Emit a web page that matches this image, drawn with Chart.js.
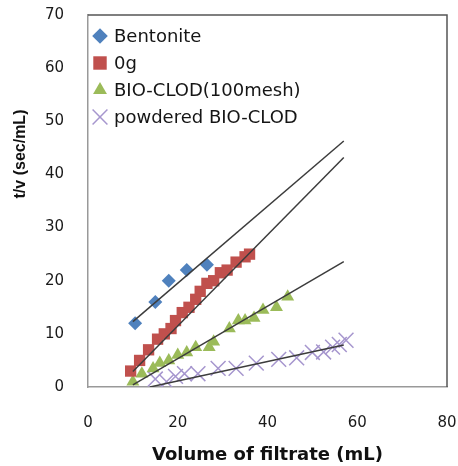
<!DOCTYPE html>
<html lang="en">
<head>
  <meta charset="UTF-8">
  <title>t/v vs Volume of filtrate</title>
  <style>
    body { margin: 0; background: #ffffff; }
    #wrap { width: 458px; height: 466px; }
  </style>
  <script src="https://cdn.jsdelivr.net/npm/chart.js"></script>
</head>
<body>
  <div id="wrap"><canvas id="chart" width="458" height="466"></canvas></div>

  <script>
    // measured points
    const bentX = [10.5, 15, 18, 22, 26.5];
    const bentY = [12, 16, 20, 22, 23];

    const ogX = [9.5, 11.5, 13.5, 15.5, 17, 18.5, 19.5, 21, 22.5, 24, 25, 26.5, 28, 29.5, 31, 33, 35, 36];
    const ogY = [3, 5, 7, 9, 10, 11, 12.5, 14, 15, 16.5, 18, 19.5, 20, 21.5, 22, 23.5, 24.5, 25];

    const bioX = [10, 12, 14.5, 16, 18, 20, 22, 24, 27, 28, 31.5, 33.5, 35, 37, 39, 42, 44.5];
    const bioY = [1, 2.5, 3.5, 4.5, 5, 6, 6.5, 7.5, 7.5, 8.5, 11, 12.5, 12.5, 13, 14.5, 15, 17];

    const powX = [15, 17.5, 19.5, 21.5, 24.5, 29, 33, 37.5, 42.5, 46.5, 50, 52.5, 54.5, 56, 57.5];
    const powY = [1.5, 1, 2, 2.5, 2.5, 3.5, 3.5, 4.5, 5.2, 5.5, 6.5, 6.6, 7.5, 8, 8.8];

    // linear trend lines (start and end)
    const bentFitX = [10, 57];
    const bentFitY = [12.3, 46.3];
    const ogFitX = [10, 57];
    const ogFitY = [2.9, 43.2];
    const bioFitX = [10, 57];
    const bioFitY = [0.4, 23.6];
    const powFitX = [13.8, 57];
    const powFitY = [0, 7.9];

    const seriesNames = ['Bentonite', '0g', 'BIO-CLOD(100mesh)', 'powdered BIO-CLOD'];
    const xTicks = [0, 20, 40, 60, 80];
    const yTicks = [0, 10, 20, 30, 40, 50, 60, 70];

    const pts = (xs, ys) => xs.map((x, i) => ({ x: x, y: ys[i] }));

    const markerSets = [
      { label: seriesNames[0], data: pts(bentX, bentY), pointStyle: 'rectRot', pointRadius: 7,
        backgroundColor: '#4F81BD', borderColor: '#4F81BD', borderWidth: 0, legendRadius: 7.8 },
      { label: seriesNames[1], data: pts(ogX, ogY), pointStyle: 'rect', pointRadius: 8,
        backgroundColor: '#C0504D', borderColor: '#C0504D', borderWidth: 0, legendRadius: 9.5 },
      { label: seriesNames[2], data: pts(bioX, bioY), pointStyle: 'triangle', pointRadius: 7.5,
        backgroundColor: '#9BBB59', borderColor: '#9BBB59', borderWidth: 0, legendRadius: 8 },
      { label: seriesNames[3], data: pts(powX, powY), pointStyle: 'crossRot', pointRadius: 10.5,
        backgroundColor: '#A696CE', borderColor: '#A696CE', borderWidth: 1.5, legendRadius: 10.5 }
    ];

    const fitSets = [
      pts(bentFitX, bentFitY), pts(ogFitX, ogFitY), pts(bioFitX, bioFitY), pts(powFitX, powFitY)
    ].map(d => ({
      label: 'fit', data: d, showLine: true, pointRadius: 0, borderColor: '#3c3c3c',
      borderWidth: 1.5, fill: false, order: 0
    }));

    markerSets.forEach(s => { s.showLine = false; s.order = 1; s.pointHoverRadius = s.pointRadius; });

    // plot frame (top and right sides darker)
    const framePlugin = {
      id: 'frame',
      afterDatasetsDraw(chart) {
        const a = chart.chartArea, ctx = chart.ctx;
        ctx.save();
        ctx.strokeStyle = '#555';
        ctx.lineWidth = 1.5;
        ctx.beginPath();
        ctx.moveTo(a.left, a.top);
        ctx.lineTo(a.right, a.top);
        ctx.lineTo(a.right, a.bottom);
        ctx.stroke();
        ctx.restore();
      }
    };

    // legend inside the plot, top left, and the y axis title
    const legendPlugin = {
      id: 'innerLegend',
      afterDraw(chart) {
        const ctx = chart.ctx;
        const a = chart.chartArea;
        ctx.save();
        markerSets.forEach((s, i) => {
          const cy = a.top + 21 + i * 27;
          ctx.fillStyle = s.backgroundColor;
          ctx.strokeStyle = s.borderColor;
          ctx.lineWidth = s.borderWidth;
          Chart.helpers.drawPoint(ctx, {
            pointStyle: s.pointStyle, radius: s.legendRadius, rotation: 0, borderWidth: s.borderWidth
          }, a.left + 12, cy);
          ctx.fillStyle = '#151515';
          ctx.font = '18px "DejaVu Sans"';
          ctx.textBaseline = 'middle';
          ctx.fillText(s.label, a.left + 26, cy + 1);
        });
        ctx.translate(21, 154);
        ctx.rotate(-Math.PI / 2);
        ctx.font = 'bold 16px "Liberation Sans"';
        ctx.textAlign = 'center';
        ctx.textBaseline = 'middle';
        ctx.fillStyle = '#111';
        ctx.fillText('t/v (sec/mL)', 0, 0);
        ctx.restore();
      }
    };

    const ctx = document.getElementById('chart').getContext('2d');
    new Chart(ctx, {
      type: 'scatter',
      data: { datasets: markerSets.concat(fitSets) },
      options: {
        responsive: false,
        animation: false,
        layout: { autoPadding: false, padding: { top: 15, right: 11, left: 0, bottom: 0 } },
        plugins: { legend: { display: false }, tooltip: { enabled: false } },
        scales: {
          x: {
            type: 'linear', min: 0, max: 80,
            afterBuildTicks: s => { s.ticks = xTicks.map(v => ({ value: v })); },
            // fixed height; drop the label overhang padding
            afterFit: s => { s.height = 79; s.paddingLeft = 0; s.paddingRight = 0; },
            grid: { display: false, drawTicks: false },
            border: { color: '#999', width: 1.5 },
            ticks: { padding: 27, color: '#1a1a1a', font: { family: 'DejaVu Sans', size: 15 }, maxRotation: 0 },
            title: { display: true, text: 'Volume of filtrate (mL)', color: '#111',
              font: { family: 'DejaVu Sans', size: 18, weight: 'bold' }, padding: { top: 0, bottom: 0 } }
          },
          y: {
            type: 'linear', min: 0, max: 70,
            afterBuildTicks: s => { s.ticks = yTicks.map(v => ({ value: v })); },
            afterFit: s => { s.width = 88; s.paddingTop = 0; s.paddingBottom = 0; },
            grid: { display: false, drawTicks: false },
            border: { color: '#999', width: 1.5 },
            ticks: { padding: 24, color: '#1a1a1a', font: { family: 'DejaVu Sans', size: 15 } }
          }
        }
      },
      plugins: [framePlugin, legendPlugin]
    });
  </script>
</body>
</html>
